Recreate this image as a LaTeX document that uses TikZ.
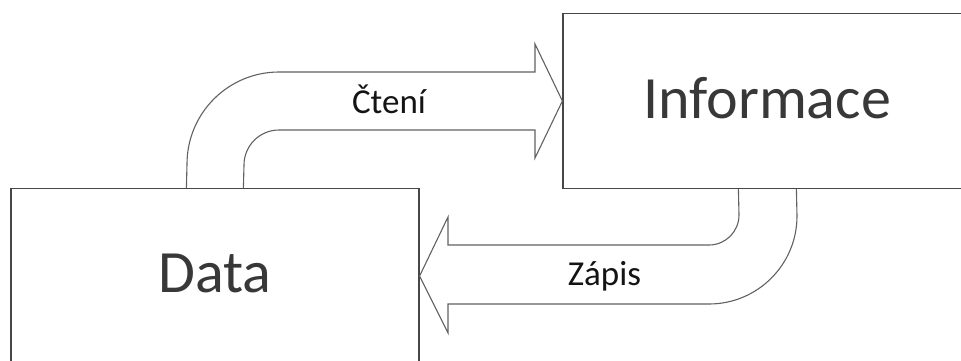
\documentclass[tikz,border=0pt]{standalone}
\usepackage{fontspec}
\setmainfont{Carlito}
\usetikzlibrary{calc}
\begin{document}
\begin{tikzpicture}[x=1pt,y=1pt,
  box/.style={draw=black!72, line width=1.2pt, minimum width=408pt,
    minimum height=175pt, inner sep=0pt, text depth=6pt,
    font=\fontsize{60}{60}\selectfont, text=black!78},
  blockarrow/.style={draw=black!62, line width=1.1pt, line join=miter},
  arrowlabel/.style={font=\fontsize{35}{35}\selectfont, text=black!92, anchor=base}]
\useasboundingbox (0,0) rectangle (961,-361);
\clip (0,0) rectangle (961,-361);

% the two boxes (both run past the page edge)
\node[box] (info) at (767,-101) {Informace};
\node[box] (data) at (215,-276) {Data};

% bent block arrow from Data up and over into Informace
\draw[blockarrow]
  ($(data.north west)+(176,0)$) -- (187,-164)
  arc[start angle=180, end angle=90, radius=92pt]
  -- (535,-72) -- (535,-44) -- (info.west) -- (535,-158) -- (535,-130)
  -- (279,-130) arc[start angle=90, end angle=180, radius=35pt]
  -- ($(data.north west)+(233,0)$);

% bent block arrow from Informace down and back into Data
\draw[blockarrow]
  ($(info.south west)+(176,0)$) -- (739,-215)
  arc[start angle=0, end angle=-90, radius=30pt]
  -- (448,-245) -- (448,-217) -- (data.east) -- (448,-333) -- (448,-304)
  -- (709,-304) arc[start angle=-90, end angle=0, radius=88pt]
  -- ($(info.south west)+(234,0)$);

\node[arrowlabel] (read) at (389,-113) {Čtení};
\node[arrowlabel] (write) at (604.5,-285) {Zápis};
\end{tikzpicture}
\end{document}
